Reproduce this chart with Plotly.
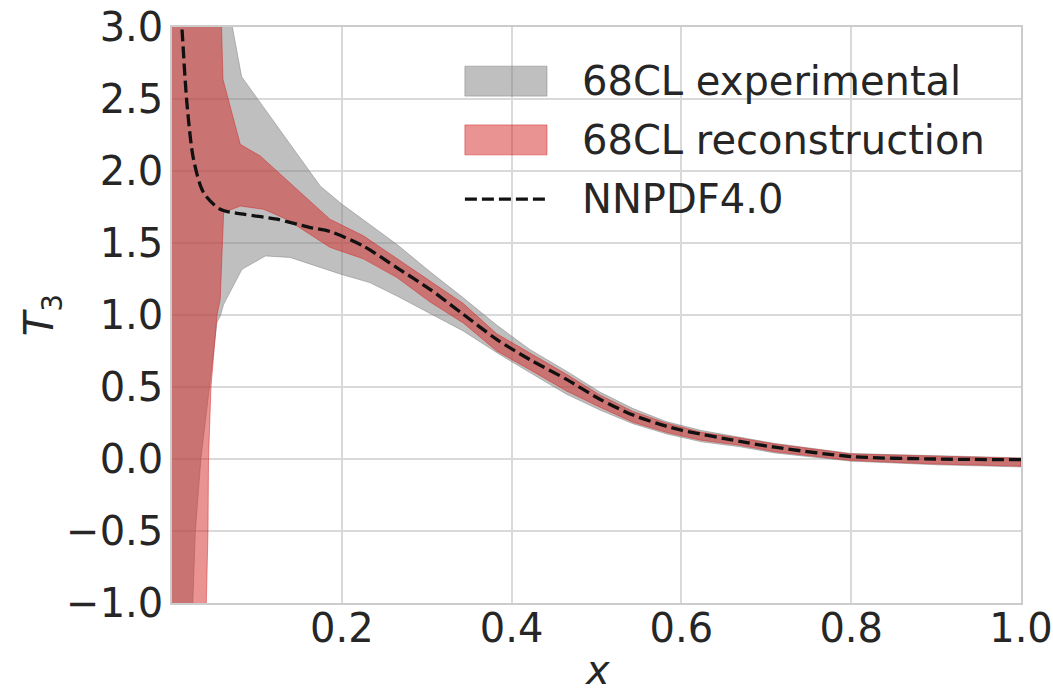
import plotly.graph_objects as go

# ---------------- data ----------------
# 68CL experimental band (gray)
exp_up_x = [0.0, 0.0695, 0.082, 0.1745, 0.2, 0.265, 0.304, 0.343, 0.3824, 0.4215, 0.4647, 0.504, 0.543, 0.582, 0.6235, 0.669, 0.71, 0.8, 0.9, 1.0]
exp_up_y = [3.2, 3.05, 2.655, 1.896, 1.77, 1.49, 1.30, 1.12, 0.93, 0.76, 0.61, 0.465, 0.35, 0.26, 0.198, 0.15, 0.108, 0.038, 0.022, 0.008]
exp_lo_x = [0.0, 0.0215, 0.0235, 0.0274, 0.034, 0.044, 0.053, 0.0568, 0.0608, 0.0824, 0.11, 0.139, 0.199, 0.233, 0.265, 0.304, 0.343, 0.3824, 0.4215, 0.4647, 0.504, 0.543, 0.582, 0.6235, 0.669, 0.71, 0.8, 0.9, 1.0]
exp_lo_y = [-1.5, -1.5, -1.0, -0.51, 0.0, 0.496, 0.95, 0.993, 1.074, 1.317, 1.41, 1.40, 1.283, 1.225, 1.132, 1.01, 0.889, 0.739, 0.60, 0.45, 0.34, 0.245, 0.175, 0.12, 0.085, 0.042, -0.015, -0.04, -0.055]

# 68CL reconstruction band (red)
rec_up_x = [0.0, 0.0575, 0.060, 0.0804, 0.104, 0.186, 0.2254, 0.265, 0.304, 0.343, 0.3824, 0.4215, 0.4647, 0.504, 0.543, 0.582, 0.6235, 0.669, 0.71, 0.8, 0.9, 1.0]
rec_up_y = [3.2, 3.2, 2.637, 2.185, 2.104, 1.665, 1.55, 1.39, 1.235, 1.08, 0.87, 0.735, 0.588, 0.445, 0.33, 0.25, 0.185, 0.145, 0.104, 0.035, 0.019, 0.005]
rec_lo_x = [0.0, 0.0398, 0.0404, 0.0424, 0.043, 0.0459, 0.053, 0.0568, 0.0608, 0.0804, 0.108, 0.135, 0.186, 0.2254, 0.265, 0.304, 0.343, 0.3824, 0.4215, 0.4647, 0.504, 0.543, 0.582, 0.6235, 0.669, 0.71, 0.8, 0.9, 1.0]
rec_lo_y = [-1.5, -1.5, -1.0, -0.5, 0.0, 0.5, 1.0, 1.109, 1.711, 1.757, 1.734, 1.665, 1.47, 1.39, 1.26, 1.09, 0.945, 0.75, 0.62, 0.472, 0.36, 0.255, 0.185, 0.13, 0.095, 0.05, -0.01, -0.035, -0.05]

# NNPDF4.0 central curve
nn_x = [0.0105, 0.0118, 0.0176, 0.0254, 0.0372, 0.0568, 0.0842, 0.1235, 0.163, 0.186, 0.2254, 0.2647, 0.3039, 0.343, 0.3824, 0.4215, 0.4647, 0.504, 0.543, 0.582, 0.6, 0.669, 0.71, 0.8, 0.9, 1.0]
nn_y = [3.1, 2.984, 2.47, 2.08, 1.85, 1.734, 1.70, 1.665, 1.607, 1.58, 1.479, 1.329, 1.178, 1.005, 0.831, 0.69, 0.553, 0.415, 0.305, 0.228, 0.200, 0.122, 0.082, 0.017, 0.0, -0.005]

x_ticks = [0.2, 0.4, 0.6, 0.8, 1.0]
y_ticks = [-1.0, -0.5, 0.0, 0.5, 1.0, 1.5, 2.0, 2.5, 3.0]
legend_labels = ["68CL experimental", "68CL reconstruction", "NNPDF4.0"]

# ---------------- styling ----------------
FONT = "DejaVu Sans"
TXT = "#262626"
GRAY_FILL = "rgba(128,128,128,0.5)"
RED_FILL = "rgba(214,39,40,0.5)"
GRID = "#d9d9d9"

fig = go.Figure()

fig.add_trace(go.Scatter(
    x=exp_up_x + exp_lo_x[::-1], y=exp_up_y + exp_lo_y[::-1],
    fill="toself", fillcolor=GRAY_FILL, mode="lines",
    line=dict(color="rgba(128,128,128,0.5)", width=1),
    name=legend_labels[0], showlegend=False, hoverinfo="skip"))

fig.add_trace(go.Scatter(
    x=rec_up_x + rec_lo_x[::-1], y=rec_up_y + rec_lo_y[::-1],
    fill="toself", fillcolor=RED_FILL, mode="lines",
    line=dict(color="rgba(214,39,40,0.5)", width=1),
    name=legend_labels[1], showlegend=False, hoverinfo="skip"))

fig.add_trace(go.Scatter(
    x=nn_x, y=nn_y, mode="lines",
    line=dict(color="#111111", width=3.3, dash="12px,5px", shape="spline", smoothing=0.8),
    name=legend_labels[2], showlegend=False))

# ---------------- manual legend (matplotlib-like) ----------------
sw_x0, sw_x1 = 0.345, 0.4417
rows_y = [0.906, 0.804, 0.701]
fig.add_shape(type="rect", xref="paper", yref="paper", x0=sw_x0, x1=sw_x1,
              y0=rows_y[0] - 0.026, y1=rows_y[0] + 0.026,
              fillcolor=GRAY_FILL, line=dict(color="rgba(128,128,128,0.5)", width=1))
fig.add_shape(type="rect", xref="paper", yref="paper", x0=sw_x0, x1=sw_x1,
              y0=rows_y[1] - 0.026, y1=rows_y[1] + 0.026,
              fillcolor=RED_FILL, line=dict(color="rgba(214,39,40,0.5)", width=1))
fig.add_shape(type="line", xref="paper", yref="paper", x0=sw_x0, x1=sw_x1,
              y0=rows_y[2], y1=rows_y[2],
              line=dict(color="#111111", width=3.3, dash="12px,5px"))
for lab, yy in zip(legend_labels, rows_y):
    fig.add_annotation(text=lab, xref="paper", yref="paper", x=0.4806, y=yy,
                       xanchor="left", yanchor="middle", showarrow=False,
                       font=dict(family=FONT, size=40, color=TXT))

# x-axis title (placed as annotation so it can sit at the very bottom like the reference)
fig.add_annotation(text="<i>x</i>", xref="paper", yref="paper", x=0.5, y=0,
                   xanchor="center", yanchor="middle", yshift=-67, showarrow=False,
                   font=dict(family=FONT, size=40, color=TXT))

fig.update_layout(
    width=1053, height=691,
    margin=dict(l=172, r=32, t=27, b=88),
    paper_bgcolor="white", plot_bgcolor="white",
    font=dict(family=FONT, size=40, color=TXT),
    showlegend=False,
)
fig.update_xaxes(
    range=[0.0, 1.0], tickvals=x_ticks, tickformat=".1f", automargin=False,
    showgrid=True, gridcolor=GRID, gridwidth=1.5, zeroline=False,
    showline=True, linecolor="#cccccc", linewidth=1.5, mirror=True,
    ticks="", ticklabelstandoff=-11, ticklabeloverflow="allow",
    tickfont=dict(family=FONT, size=40, color=TXT),
)
fig.update_yaxes(
    range=[-1.0, 3.0], tickvals=y_ticks, tickformat=".1f", automargin=False,
    showgrid=True, gridcolor=GRID, gridwidth=1.5, zeroline=False,
    showline=True, linecolor="#cccccc", linewidth=1.5, mirror=True,
    ticks="", ticklabelstandoff=-1, ticklabeloverflow="allow",
    tickfont=dict(family=FONT, size=40, color=TXT),
    title=dict(text="<i>T</i><sub>3</sub>", font=dict(family=FONT, size=40, color=TXT), standoff=0),
)

# remove the default 8px page margin so the figure fills the window exactly
fig.write_html(
    "out.html",
    config={"displayModeBar": False},
    post_script="document.body.style.margin='0';document.body.style.overflow='hidden';",
)
